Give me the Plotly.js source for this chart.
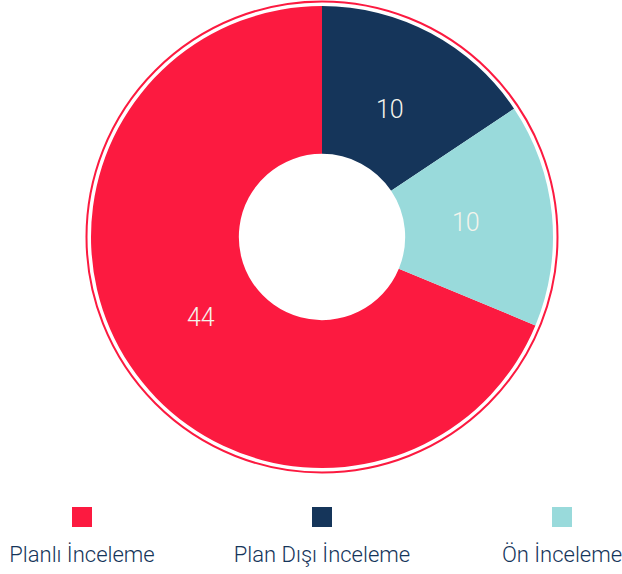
<!DOCTYPE html>
<html>
<head>
<meta charset="utf-8">
<script src="https://cdn.plot.ly/plotly-3.0.1.min.js"></script>
<style>html,body{margin:0;padding:0;background:#fff;}#chart{width:622px;height:574px;}</style>
</head>
<body>
<div id="chart"></div>
<script>
const categories = ["Planlı İnceleme", "Plan Dışı İnceleme", "Ön İnceleme"];
const values = [44, 10, 10];
const colors = ["#FC1A40", "#15355A", "#99DADB"];

const total = values.reduce((a, b) => a + b, 0);
const W = 622, H = 574;
const cx = 322, cy = 237, r = 231, rRing = 235.5, holeFrac = 0.36, labelR = 145;
function dom(rad) {
  return {
    x: [(cx - rad) / W, (cx + rad) / W],
    y: [(H - (cy + rad)) / H, (H - (cy - rad)) / H]
  };
}

// first (largest) slice ends at 12 o'clock, slices run clockwise
const rotation = 360 - 360 * (values[0] / total);

const ring = {
  type: "pie",
  values: [total],
  labels: ["_ring"],
  marker: { colors: ["#ffffff"], line: { color: "#FC1A40", width: 2 } },
  textinfo: "none",
  hoverinfo: "skip",
  sort: false,
  showlegend: false,
  domain: dom(rRing)
};

const donut = {
  type: "pie",
  labels: categories,
  values: values,
  marker: { colors: colors, line: { width: 0 } },
  hole: holeFrac,
  sort: false,
  direction: "clockwise",
  rotation: rotation,
  textinfo: "none",
  showlegend: false,
  domain: dom(r)
};

// value labels at the middle angle of each slice
const annotations = [];
let acc = rotation;
values.forEach((v) => {
  const mid = (acc + 180 * v / total) * Math.PI / 180;
  acc += 360 * v / total;
  annotations.push({
    xref: "paper", yref: "paper",
    x: (cx + labelR * Math.sin(mid)) / W,
    y: (H - (cy - labelR * Math.cos(mid))) / H,
    text: String(v),
    showarrow: false,
    xanchor: "center", yanchor: "middle",
    font: { color: "#F4F4EC", size: 25, family: "Roboto", weight: 300 }
  });
});

const legendMarkers = {
  type: "scatter",
  mode: "markers",
  x: categories.map((_, i) => i),
  y: categories.map(() => 0),
  marker: { symbol: "square", size: 20, color: colors },
  cliponaxis: false,
  hoverinfo: "skip",
  showlegend: false
};

const legendText = {
  type: "scatter",
  mode: "text",
  x: categories.map((_, i) => i),
  y: categories.map(() => -39),
  text: categories,
  textposition: "middle center",
  textfont: { color: "#15355A", size: 22, family: "Roboto", weight: 300 },
  cliponaxis: false,
  hoverinfo: "skip",
  showlegend: false
};

const layout = {
  width: W, height: H,
  margin: { l: 0, r: 0, t: 0, b: 0 },
  paper_bgcolor: "#fff",
  plot_bgcolor: "rgba(0,0,0,0)",
  showlegend: false,
  annotations: annotations,
  xaxis: { range: [-82 / 240, (W - 82) / 240], visible: false, fixedrange: true },
  yaxis: { range: [-57, 517], visible: false, fixedrange: true }
};

Plotly.newPlot("chart", [ring, donut, legendMarkers, legendText], layout, { displayModeBar: false, staticPlot: true });
</script>
</body>
</html>
